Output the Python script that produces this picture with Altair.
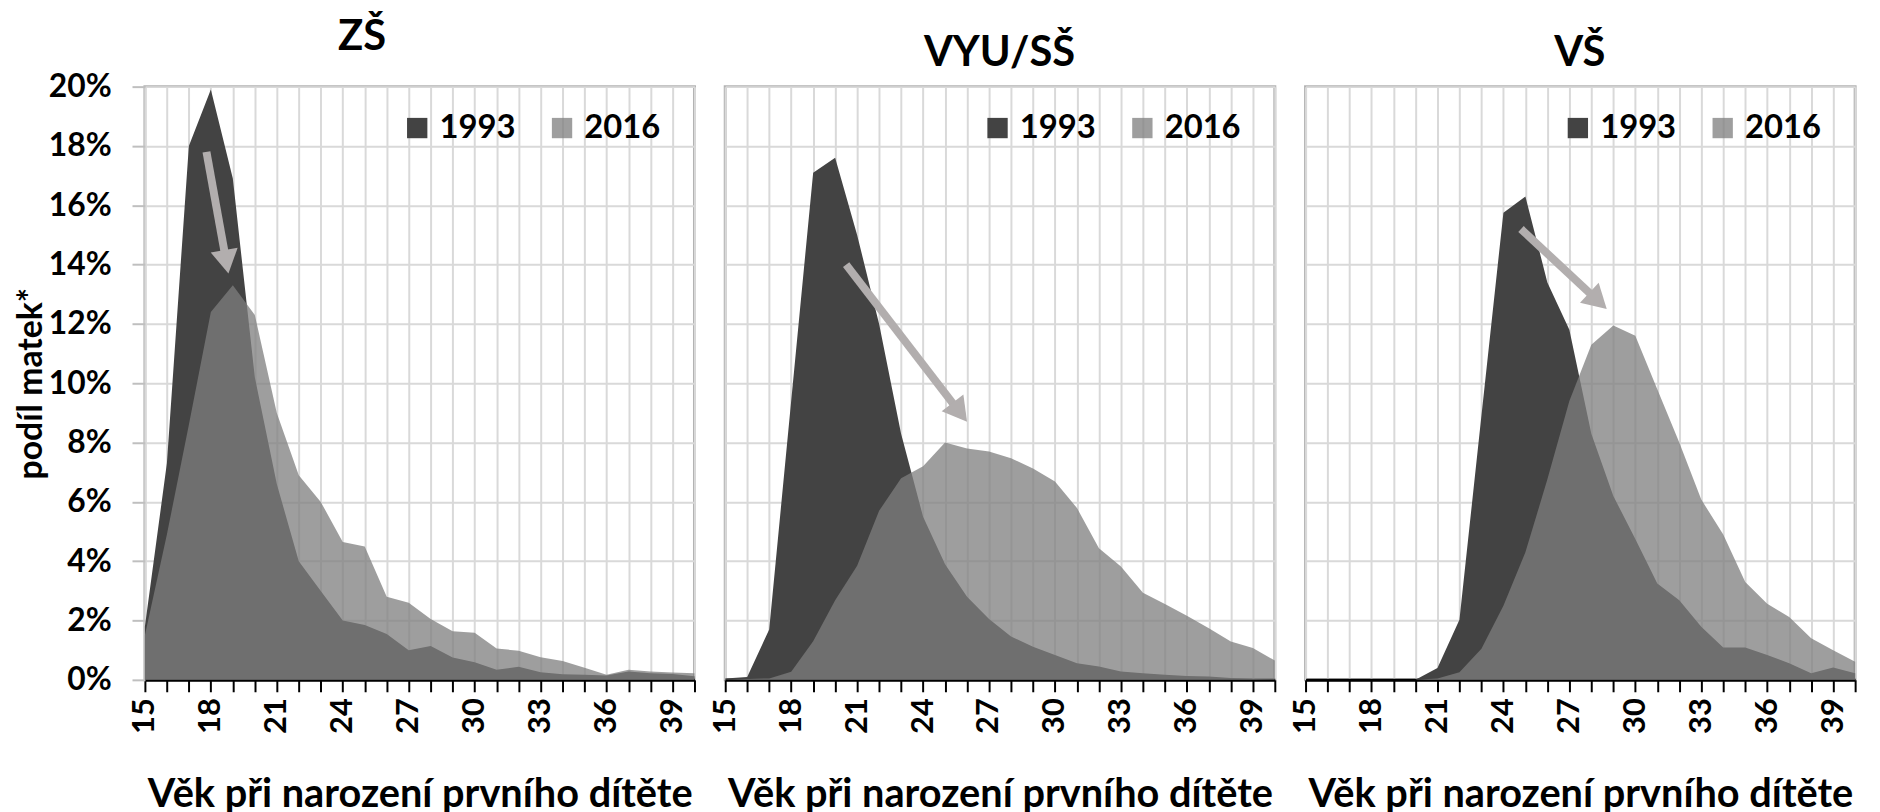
import math
import altair as alt
import pandas as pd

# ---------------- data ----------------
ages = list(range(15, 41))
years = ["1993", "2016"]
panel_titles = ["ZŠ", "VYU/SŠ", "VŠ"]

zs_1993 = [1.8, 7.3, 18.0, 19.9, 16.9, 10.2, 6.6, 4.0, 3.0, 2.0, 1.85, 1.55, 1.0,
           1.14, 0.75, 0.59, 0.34, 0.44, 0.26, 0.19, 0.17, 0.15, 0.28, 0.22, 0.2, 0.12]
zs_2016 = [1.5, 4.9, 8.6, 12.4, 13.3, 12.3, 9.0, 6.9, 6.0, 4.65, 4.5, 2.8, 2.6,
           2.05, 1.64, 1.59, 1.06, 0.98, 0.76, 0.64, 0.41, 0.17, 0.34, 0.28, 0.25, 0.22]

vyu_1993 = [0.05, 0.1, 1.7, 9.4, 17.1, 17.6, 15.0, 12.0, 8.3, 5.5, 3.9, 2.8, 2.05,
            1.46, 1.12, 0.84, 0.56, 0.45, 0.28, 0.22, 0.17, 0.13, 0.11, 0.06, 0.03, 0.01]
vyu_2016 = [0.0, 0.03, 0.05, 0.27, 1.3, 2.68, 3.85, 5.7, 6.8, 7.2, 8.0, 7.8, 7.7,
            7.47, 7.13, 6.69, 5.79, 4.44, 3.82, 2.94, 2.56, 2.16, 1.74, 1.29, 1.07, 0.65]

vs_1993 = [0, 0, 0, 0, 0, 0, 0.4, 2.03, 8.9, 15.75, 16.3, 13.4, 11.8,
           8.3, 6.2, 4.75, 3.25, 2.68, 1.79, 1.09, 1.09, 0.84, 0.56, 0.22, 0.42, 0.22]
vs_2016 = [0, 0, 0, 0, 0, 0, 0.05, 0.26, 1.05, 2.5, 4.3, 6.76, 9.4,
           11.3, 11.95, 11.6, 9.8, 8.0, 6.08, 4.9, 3.3, 2.57, 2.12, 1.4, 1.0, 0.61]

series_1993 = [zs_1993, vyu_1993, vs_1993]
series_2016 = [zs_2016, vyu_2016, vs_2016]

# annotation arrows (from 1993 peak towards 2016 peak)
arrow_start_age = [17.8, 20.5, 24.8]
arrow_start_pct = [17.8, 14.0, 15.2]
arrow_tip_age = [18.8, 26.0, 28.7]
arrow_tip_pct = [13.7, 8.7, 12.5]

y_ticks = list(range(0, 21, 2))

# ---------------- style ----------------
FONT = "Lato"
W, H = 554, 598
ARROW = "#b2aeae"
HEAD = 24  # arrow head length in px

xs = alt.Scale(domain=[15, 40], nice=False, zero=False)
ys = alt.Scale(domain=[0, 20], nice=False, zero=True)


def x_axis():
    return alt.Axis(
        title="Věk při narození prvního dítěte",
        titleFont=FONT, titleFontSize=40, titleFontWeight="bold", titleColor="black",
        titlePadding=42,
        values=ages,
        labelExpr="datum.value % 3 == 0 ? datum.label : ''",
        labelAngle=-90, labelFont=FONT, labelFontSize=31, labelFontWeight="bold",
        labelColor="black", labelPadding=6, labelOverlap=False, labelFlush=False,
        ticks=True, tickColor="black", tickWidth=2, tickSize=12,
        domain=True, domainColor="black", domainWidth=3,
        grid=True, gridColor="#d9d9d9", gridWidth=2,
    )


def y_axis(show):
    if show:
        return alt.Axis(
            title="podíl matek*",
            titleFont=FONT, titleFontSize=34, titleFontWeight="bold", titleColor="black",
            titlePadding=0,
            values=y_ticks,
            labelExpr="datum.value + '%'",
            labelFont=FONT, labelFontSize=32, labelFontWeight="bold", labelColor="black",
            labelPadding=21,
            ticks=True, tickColor="#bfbfbf", tickWidth=2, tickSize=13,
            domain=False,
            grid=True, gridColor="#d9d9d9", gridWidth=2,
        )
    return alt.Axis(
        title=None, values=y_ticks, labels=False, ticks=False, domain=False,
        grid=True, gridColor="#d9d9d9", gridWidth=2,
    )


def make_legend():
    return alt.Legend(
        orient="none", legendX=258, legendY=25, direction="horizontal", title=None,
        symbolType="square", symbolSize=420, symbolStrokeWidth=0,
        labelFont=FONT, labelFontSize=33, labelFontWeight="bold", labelColor="black",
        labelOffset=6, columnPadding=30, labelLimit=200,
    )


color_scale = alt.Scale(domain=years, range=["#434343", "#7e7e7e"])
op_scale = alt.Scale(domain=years, range=[1.0, 0.75])


def panel(i, show_y):
    df = pd.DataFrame({
        "age": ages * 2,
        "year": ["1993"] * len(ages) + ["2016"] * len(ages),
        "value": series_1993[i] + series_2016[i],
    })
    base = alt.Chart(df)
    enc = dict(
        x=alt.X("age:Q", scale=xs, axis=x_axis()),
        y=alt.Y("value:Q", scale=ys, axis=y_axis(show_y)),
        color=alt.Color("year:N", scale=color_scale, legend=make_legend()),
        opacity=alt.Opacity("year:N", scale=op_scale, legend=make_legend()),
    )
    a93 = base.transform_filter(alt.datum.year == "1993").mark_area(interpolate="linear").encode(**enc)
    a16 = base.transform_filter(alt.datum.year == "2016").mark_area(interpolate="linear").encode(**enc)

    # arrow geometry in pixel space to orient the head and stop the shaft under it
    sa, sp = arrow_start_age[i], arrow_start_pct[i]
    ta, tp = arrow_tip_age[i], arrow_tip_pct[i]
    dx = (ta - sa) * W / 25.0
    dy = -(tp - sp) * H / 20.0
    length = math.hypot(dx, dy)
    f = (length - HEAD * 0.7) / length
    angle = math.degrees(math.atan2(dx, -dy)) % 360
    adf = pd.DataFrame({
        "age": [sa], "value": [sp],
        "age2": [sa + f * (ta - sa)], "value2": [sp + f * (tp - sp)],
        "tip_age": [ta], "tip_pct": [tp],
    })
    shaft = alt.Chart(adf).mark_rule(color=ARROW, strokeWidth=8, strokeCap="butt").encode(
        x=alt.X("age:Q", scale=xs, axis=x_axis()),
        y=alt.Y("value:Q", scale=ys, axis=y_axis(show_y)),
        x2="age2:Q", y2="value2:Q",
    )
    head = alt.Chart(adf).mark_point(
        shape="M0,0L1.15,2L-1.15,2Z", filled=True, size=HEAD * HEAD, color=ARROW,
        opacity=1, strokeWidth=0, angle=angle,
    ).encode(
        x=alt.X("tip_age:Q", scale=xs, axis=x_axis()),
        y=alt.Y("tip_pct:Q", scale=ys, axis=y_axis(show_y)),
    )
    return alt.layer(a93, a16, shaft, head).properties(
        width=W, height=H,
        title=alt.TitleParams(
            text=panel_titles[i], font=FONT, fontSize=42, fontWeight="bold", color="black",
            anchor="middle", offset=12, frame="bounds",
        ),
    )


chart = alt.hconcat(
    panel(0, True), panel(1, False), panel(2, False), spacing=31, bounds="flush"
).resolve_scale(
    color="independent", opacity="independent"
).resolve_legend(
    color="independent", opacity="independent"
).configure_view(
    stroke="#b3b3b3", strokeWidth=3
).properties(
    padding={"left": 5, "top": 3, "right": 0, "bottom": 0},
    background="white",
)

chart.save("out.html", embed_options={"renderer": "svg", "actions": False})
